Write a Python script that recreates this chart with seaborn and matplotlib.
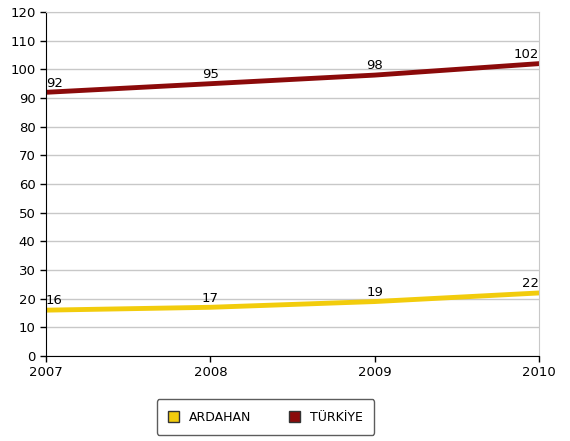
import pandas as pd
import matplotlib.pyplot as plt
import seaborn as sns

years = [2007, 2008, 2009, 2010]
ardahan = [16, 17, 19, 22]
turkiye = [92, 95, 98, 102]
series_names = ["ARDAHAN", "TÜRKİYE"]
colors = ["#F2CC0C", "#8B0A0A"]

df = pd.DataFrame({"year": years * 2,
                   "value": ardahan + turkiye,
                   "series": [series_names[0]] * 4 + [series_names[1]] * 4})

sns.set_style("white")
plt.rcParams['font.family'] = ['DejaVu Sans']
plt.rcParams['text.color'] = 'black'
plt.rcParams['xtick.color'] = 'black'
plt.rcParams['ytick.color'] = 'black'

fig = plt.figure(figsize=(5.7, 4.41), dpi=100)
ax = fig.add_axes([0.0807, 0.1927, 0.8649, 0.78])

sns.lineplot(data=df, x="year", y="value", hue="series", palette=colors,
             linewidth=3.5, ax=ax, legend=False)

# value labels
for vals in [ardahan, turkiye]:
    for i, (x, v) in enumerate(zip(years, vals)):
        ha = "left" if i == 0 else ("right" if i == len(years) - 1 else "center")
        ax.annotate(str(v), (x, v), xytext=(0, 2), textcoords="offset points",
                    ha=ha, va="bottom", fontsize=9.5, color="black")

ax.set_xlim(2007, 2010)
ax.set_ylim(0, 120)
ax.set_xticks(years)
ax.set_yticks(range(0, 121, 10))
ax.grid(axis="y", color="#C8C8C8", linewidth=1)
ax.set_xlabel("")
ax.set_ylabel("")
ax.tick_params(axis="both", which="both", length=4, width=1, color="black",
               labelsize=9.5, labelcolor="black", direction="out", left=True, bottom=True)
ax.spines["left"].set_color("black")
ax.spines["bottom"].set_color("black")
ax.spines["right"].set_color("#C8C8C8")
ax.spines["top"].set_color("#C8C8C8")

handles = [plt.Rectangle((0, 0), 1, 1, facecolor=c, edgecolor="#333333") for c in colors]
fig.legend(handles, series_names, loc="center", bbox_to_anchor=(0.466, 0.054),
           ncol=2, frameon=True, fontsize=9, handlelength=0.9, handleheight=0.9,
           columnspacing=3, edgecolor="#333333", fancybox=True, borderpad=0.9,
           labelcolor="black")

fig.savefig("out.png", dpi=100)
